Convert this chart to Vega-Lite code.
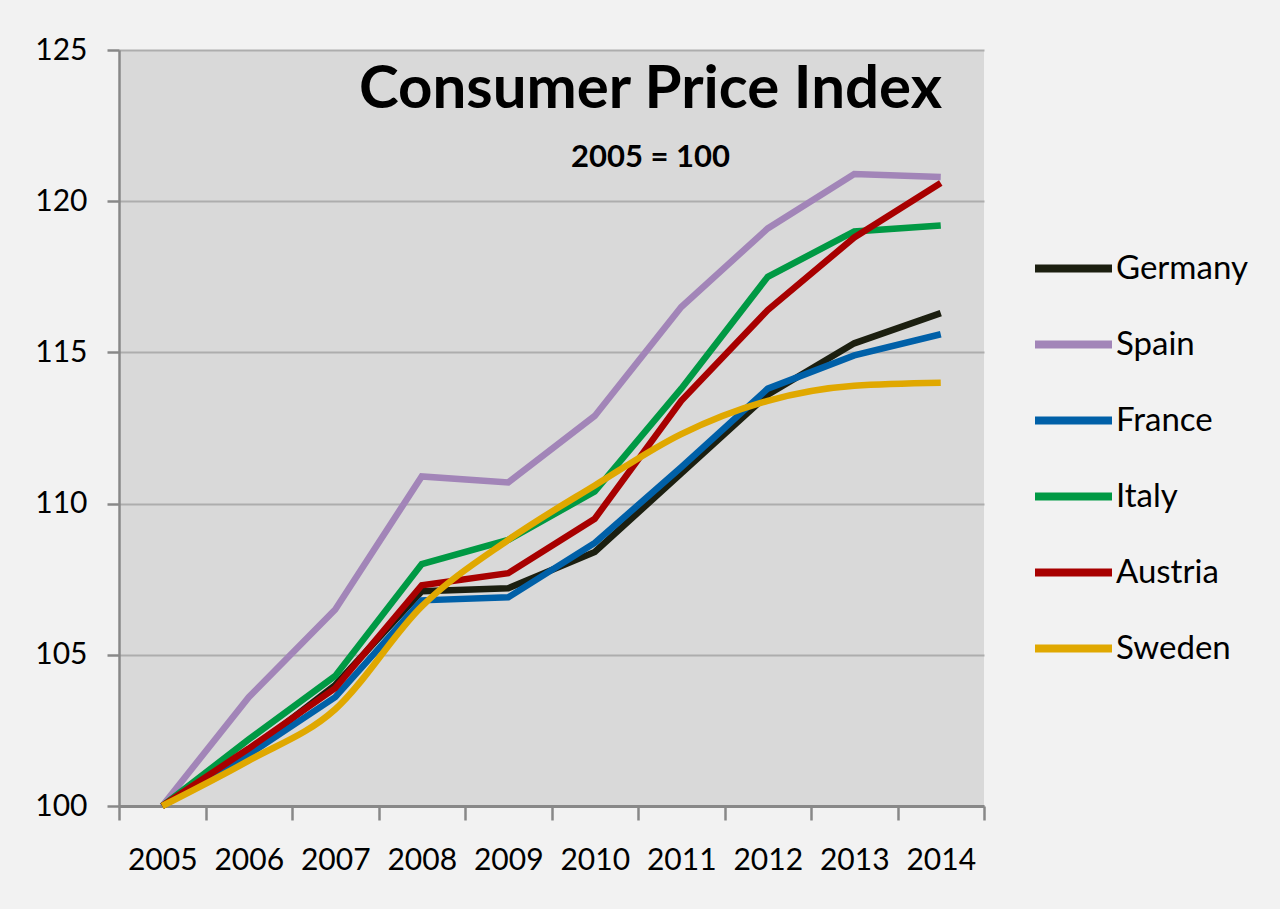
{
  "$schema": "https://vega.github.io/schema/vega-lite/v6.json",
  "width": 865,
  "height": 756,
  "autosize": {"type": "none"},
  "padding": {"left": 119, "top": 50, "right": 296, "bottom": 103},
  "background": "#f2f2f2",
  "config": {
    "view": {"fill": "#d9d9d9", "stroke": null},
    "font": "Lato"
  },
  "title": {
    "text": "Consumer Price Index",
    "subtitle": "2005 = 100",
    "anchor": "middle",
    "frame": "group",
    "dx": 99,
    "offset": -139,
    "font": "Lato",
    "fontSize": 60,
    "fontWeight": "bold",
    "color": "#000000",
    "subtitleFont": "Lato",
    "subtitleFontSize": 31,
    "subtitleFontWeight": "bold",
    "subtitleColor": "#000000",
    "subtitlePadding": 22
  },
  "data": {
    "values": [
      {"year": "2005", "country": "Germany", "cpi": 100},
      {"year": "2006", "country": "Germany", "cpi": 101.8},
      {"year": "2007", "country": "Germany", "cpi": 104.0},
      {"year": "2008", "country": "Germany", "cpi": 107.1},
      {"year": "2009", "country": "Germany", "cpi": 107.2},
      {"year": "2010", "country": "Germany", "cpi": 108.4},
      {"year": "2011", "country": "Germany", "cpi": 111.0},
      {"year": "2012", "country": "Germany", "cpi": 113.6},
      {"year": "2013", "country": "Germany", "cpi": 115.3},
      {"year": "2014", "country": "Germany", "cpi": 116.3},
      {"year": "2005", "country": "Spain", "cpi": 100},
      {"year": "2006", "country": "Spain", "cpi": 103.6},
      {"year": "2007", "country": "Spain", "cpi": 106.5},
      {"year": "2008", "country": "Spain", "cpi": 110.9},
      {"year": "2009", "country": "Spain", "cpi": 110.7},
      {"year": "2010", "country": "Spain", "cpi": 112.9},
      {"year": "2011", "country": "Spain", "cpi": 116.5},
      {"year": "2012", "country": "Spain", "cpi": 119.1},
      {"year": "2013", "country": "Spain", "cpi": 120.9},
      {"year": "2014", "country": "Spain", "cpi": 120.8},
      {"year": "2005", "country": "France", "cpi": 100},
      {"year": "2006", "country": "France", "cpi": 101.7},
      {"year": "2007", "country": "France", "cpi": 103.6},
      {"year": "2008", "country": "France", "cpi": 106.8},
      {"year": "2009", "country": "France", "cpi": 106.9},
      {"year": "2010", "country": "France", "cpi": 108.7},
      {"year": "2011", "country": "France", "cpi": 111.2},
      {"year": "2012", "country": "France", "cpi": 113.8},
      {"year": "2013", "country": "France", "cpi": 114.9},
      {"year": "2014", "country": "France", "cpi": 115.6},
      {"year": "2005", "country": "Italy", "cpi": 100},
      {"year": "2006", "country": "Italy", "cpi": 102.2},
      {"year": "2007", "country": "Italy", "cpi": 104.3},
      {"year": "2008", "country": "Italy", "cpi": 108.0},
      {"year": "2009", "country": "Italy", "cpi": 108.8},
      {"year": "2010", "country": "Italy", "cpi": 110.4},
      {"year": "2011", "country": "Italy", "cpi": 113.8},
      {"year": "2012", "country": "Italy", "cpi": 117.5},
      {"year": "2013", "country": "Italy", "cpi": 119.0},
      {"year": "2014", "country": "Italy", "cpi": 119.2},
      {"year": "2005", "country": "Austria", "cpi": 100},
      {"year": "2006", "country": "Austria", "cpi": 101.9},
      {"year": "2007", "country": "Austria", "cpi": 103.9},
      {"year": "2008", "country": "Austria", "cpi": 107.3},
      {"year": "2009", "country": "Austria", "cpi": 107.7},
      {"year": "2010", "country": "Austria", "cpi": 109.5},
      {"year": "2011", "country": "Austria", "cpi": 113.4},
      {"year": "2012", "country": "Austria", "cpi": 116.4},
      {"year": "2013", "country": "Austria", "cpi": 118.8},
      {"year": "2014", "country": "Austria", "cpi": 120.6},
      {"year": "2005", "country": "Sweden", "cpi": 100},
      {"year": "2006", "country": "Sweden", "cpi": 101.5},
      {"year": "2007", "country": "Sweden", "cpi": 103.2},
      {"year": "2008", "country": "Sweden", "cpi": 106.6},
      {"year": "2009", "country": "Sweden", "cpi": 108.8},
      {"year": "2010", "country": "Sweden", "cpi": 110.6},
      {"year": "2011", "country": "Sweden", "cpi": 112.3},
      {"year": "2012", "country": "Sweden", "cpi": 113.4},
      {"year": "2013", "country": "Sweden", "cpi": 113.9},
      {"year": "2014", "country": "Sweden", "cpi": 114.0}
    ]
  },
  "encoding": {
    "x": {
      "field": "year",
      "type": "ordinal",
      "bandPosition": 0.5,
      "scale": {"type": "band", "paddingInner": 0, "paddingOuter": 0},
      "axis": {
        "title": null,
        "tickBand": "extent",
        "labelAngle": 0,
        "labelFont": "Lato",
        "labelFontSize": 30,
        "labelColor": "#000000",
        "labelPadding": 25,
        "domainColor": "#888888",
        "domainWidth": 3,
        "tickColor": "#888888",
        "tickWidth": 2.5,
        "tickSize": 14,
        "grid": false
      }
    },
    "y": {
      "field": "cpi",
      "type": "quantitative",
      "scale": {"domain": [100, 125], "nice": false, "zero": false},
      "axis": {
        "title": null,
        "values": [100, 105, 110, 115, 120, 125],
        "labelFont": "Lato",
        "labelFontSize": 30,
        "labelColor": "#000000",
        "labelPadding": 20,
        "domainColor": "#888888",
        "domainWidth": 2.5,
        "tickColor": "#888888",
        "tickWidth": 2.5,
        "tickSize": 12,
        "grid": true,
        "gridColor": "#adadad",
        "gridWidth": 2
      }
    },
    "color": {
      "field": "country",
      "type": "nominal",
      "scale": {
        "domain": ["Germany", "Spain", "France", "Italy", "Austria", "Sweden"],
        "range": ["#1c1f10", "#a285b8", "#0060a8", "#009944", "#a80000", "#e0a800"]
      },
      "legend": {
        "title": null,
        "orient": "none",
        "legendX": 912,
        "legendY": 176,
        "padding": 0,
        "symbolType": "stroke",
        "symbolSize": 5929,
        "symbolStrokeWidth": 8,
        "labelFont": "Lato",
        "labelFontSize": 33,
        "labelColor": "#000000",
        "labelOffset": 0,
        "rowPadding": 16
      }
    }
  },
  "layer": [
    {
      "transform": [{"filter": "datum.country != 'Sweden'"}],
      "mark": {"type": "line", "strokeWidth": 6.5}
    },
    {
      "transform": [{"filter": "datum.country == 'Sweden'"}],
      "mark": {"type": "line", "strokeWidth": 6.5, "interpolate": "monotone"}
    }
  ]
}
